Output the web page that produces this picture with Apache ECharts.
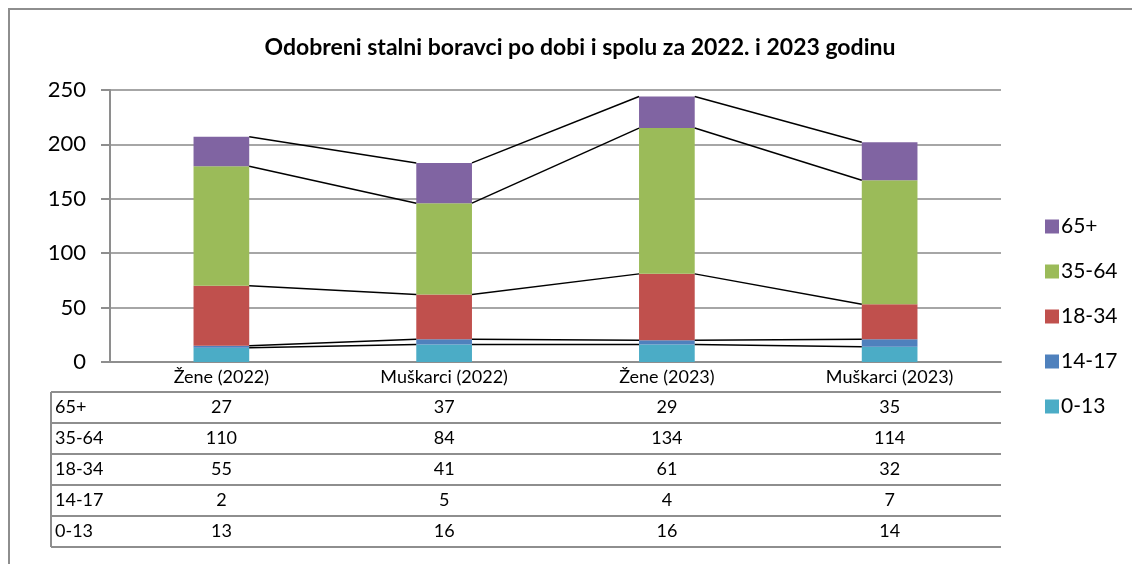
<!DOCTYPE html>
<html>
<head>
<meta charset="utf-8">
<script src="https://cdn.jsdelivr.net/npm/echarts@6/dist/echarts.min.js"></script>
<style>
  html, body { margin: 0; padding: 0; background: #fff; }
  #main { width: 1132px; height: 564px; }
</style>
</head>
<body>
<div id="main"></div>
<script type="text/javascript">

var categories = ['Žene (2022)', 'Muškarci (2022)', 'Žene (2023)', 'Muškarci (2023)'];
var groupNames = ['0-13', '14-17', '18-34', '35-64', '65+'];
var colors = ['#4BACC6', '#4F81BD', '#C0504D', '#9BBB59', '#8064A2'];

var age0_13 = [13, 16, 16, 14];
var age14_17 = [2, 5, 4, 7];
var age18_34 = [55, 41, 61, 32];
var age35_64 = [110, 84, 134, 114];
var age65 = [27, 37, 29, 35];

var yTicks = [0, 50, 100, 150, 200, 250];

var groups = [age0_13, age14_17, age18_34, age35_64, age65];
var fontName = 'Lato';
var gray = '#8e8e8e';

var chart = echarts.init(document.getElementById('main'));

// stacked bars
var series = [];
for (var k = 0; k < groups.length; k++) {
	series.push({
		name: groupNames[k],
		type: 'bar',
		stack: 'total',
		barWidth: '25%',
		itemStyle: { color: colors[k] },
		data: groups[k],
		z: 2
	});
}

// series lines joining tops of each stacked segment
var cum = [0, 0, 0, 0];
for (var k = 0; k < groups.length; k++) {
	for (var i = 0; i < cum.length; i++) cum[i] += groups[k][i];
	var segs = [];
	for (var i = 0; i < cum.length - 1; i++) {
		segs.push([i, cum[i], cum[i + 1]]);
	}
	series.push({
		type: 'custom',
		silent: true,
		z: 5,
		renderItem: function (params, api) {
			var idx = api.value(0);
			var half = api.size([1, 0])[0] * 0.25 / 2;
			var p1 = api.coord([idx, api.value(1)]);
			var p2 = api.coord([idx + 1, api.value(2)]);
			return {
				type: 'line',
				shape: { x1: p1[0] + half, y1: p1[1], x2: p2[0] - half, y2: p2[1] },
				style: { stroke: '#000', lineWidth: 1.5 }
			};
		},
		data: segs
	});
}

var option = {
	animation: false,
	textStyle: { fontFamily: fontName },
	title: {
		text: 'Odobreni stalni boravci po dobi i spolu za 2022. i 2023 godinu',
		left: 575,
		textAlign: 'center',
		top: 31,
		textStyle: { fontSize: 23, fontWeight: 'bold', color: '#000', fontFamily: fontName }
	},
	legend: {
		orient: 'vertical',
		left: 1040,
		top: 211,
		itemWidth: 14,
		itemHeight: 14,
		itemGap: 24,
		icon: 'rect',
		data: groupNames.slice().reverse(),
		textStyle: { fontSize: 21, color: '#000', fontFamily: fontName, padding: [0, 0, 0, -3] }
	},
	grid: { left: 110, right: 131, top: 90, bottom: 202 },
	xAxis: {
		type: 'category',
		data: categories,
		axisLine: { lineStyle: { color: gray, width: 2 } },
		axisTick: { length: 185, lineStyle: { color: gray, width: 2 } },
		axisLabel: { fontSize: 18, color: '#000', margin: 6, fontFamily: fontName }
	},
	yAxis: {
		type: 'value',
		min: 0,
		max: 250,
		interval: 50,
		axisLine: { show: true, lineStyle: { color: gray, width: 2 } },
		axisTick: { show: true, length: 9, lineStyle: { color: gray, width: 2 } },
		axisLabel: {
			fontSize: 22, color: '#000', margin: 24, fontFamily: fontName,
			formatter: function (v) { return yTicks.indexOf(v) >= 0 ? String(v) : ''; }
		},
		splitLine: { lineStyle: { color: '#a6a6a6', width: 2 } }
	},
	series: series
};

chart.setOption(option);

// data table under the axis
var y0 = chart.convertToPixel({ gridIndex: 0 }, [0, 0])[1];
var xRight = chart.convertToPixel({ gridIndex: 0 }, [categories.length - 1, 0])[0] +
	(chart.convertToPixel({ gridIndex: 0 }, [1, 0])[0] - chart.convertToPixel({ gridIndex: 0 }, [0, 0])[0]) / 2;
var headH = 30, rowH = 31, tableLeft = 51;
var graphics = [];

graphics.push({
	type: 'rect',
	shape: { x: 9, y: 9, width: 1140, height: 600 },
	style: { fill: 'none', stroke: gray, lineWidth: 2 },
	silent: true
});

var rows = groups.slice().reverse();
var rowNames = groupNames.slice().reverse();
for (var r = 0; r <= rows.length; r++) {
	var ly = y0 + headH + r * rowH;
	graphics.push({
		type: 'line',
		shape: { x1: tableLeft, y1: ly, x2: xRight, y2: ly },
		style: { stroke: gray, lineWidth: 2 },
		silent: true
	});
}
graphics.push({
	type: 'line',
	shape: { x1: tableLeft, y1: y0 + headH, x2: tableLeft, y2: y0 + headH + rows.length * rowH },
	style: { stroke: gray, lineWidth: 2 },
	silent: true
});
for (var r = 0; r < rows.length; r++) {
	var cy = y0 + headH + r * rowH + rowH / 2;
	graphics.push({
		type: 'text',
		x: tableLeft + 4, y: cy,
		style: { text: rowNames[r], fontSize: 18, fontFamily: fontName, fill: '#000', textVerticalAlign: 'middle', textAlign: 'left' },
		silent: true
	});
	for (var i = 0; i < categories.length; i++) {
		var cx = chart.convertToPixel({ gridIndex: 0 }, [i, 0])[0];
		graphics.push({
			type: 'text',
			x: cx, y: cy,
			style: { text: String(rows[r][i]), fontSize: 18, fontFamily: fontName, fill: '#000', textVerticalAlign: 'middle', textAlign: 'center' },
			silent: true
		});
	}
}

chart.setOption({ graphic: graphics });

</script>
</body>
</html>
